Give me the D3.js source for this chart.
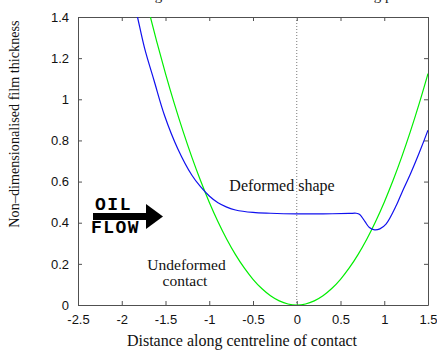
<!DOCTYPE html>
<html><head><meta charset="utf-8">
<script src="https://cdn.jsdelivr.net/npm/d3@7"></script>
<style>body{margin:0;background:#fff}svg{display:block}</style>
</head><body>
<script>
// ---- data ----
const xTicks = [-2.5, -2, -1.5, -1, -0.5, 0, 0.5, 1, 1.5];
const xTickLabels = ["-2.5", "-2", "-1.5", "-1", "-0.5", "0", "0.5", "1", "1.5"];
const yTicks = [0, 0.2, 0.4, 0.6, 0.8, 1, 1.2, 1.4];
const yTickLabels = ["0", "0.2", "0.4", "0.6", "0.8", "1", "1.2", "1.4"];

// Undeformed contact (green)
const undeformedX = [-1.8, -1.7, -1.6, -1.5, -1.4, -1.3, -1.2, -1.1, -1.0, -0.9, -0.8, -0.7, -0.6, -0.5, -0.4, -0.3, -0.2, -0.1, 0,
  0.1, 0.2, 0.3, 0.4, 0.5, 0.6, 0.7, 0.8, 0.9, 1.0, 1.1, 1.2, 1.3, 1.4, 1.5];
const undeformedH = [1.62, 1.445, 1.28, 1.125, 0.98, 0.845, 0.72, 0.605, 0.5, 0.405, 0.32, 0.245, 0.18, 0.125, 0.08, 0.045, 0.02, 0.005, 0,
  0.005, 0.02, 0.045, 0.08, 0.125, 0.18, 0.245, 0.32, 0.405, 0.5, 0.605, 0.72, 0.845, 0.98, 1.125];

// Deformed shape (blue)
const deformedX = [-1.9, -1.82, -1.74, -1.63, -1.51, -1.36, -1.2, -1.1, -1.0, -0.9, -0.8, -0.7, -0.5, -0.3, 0, 0.3, 0.6, 0.68, 0.72, 0.78, 0.83, 0.89, 0.95, 1.02, 1.14, 1.2, 1.3, 1.4, 1.5];
const deformedH = [1.55, 1.4, 1.25, 1.09, 0.92, 0.76, 0.632, 0.575, 0.53, 0.497, 0.476, 0.462, 0.45, 0.446, 0.443, 0.443, 0.445, 0.446, 0.44, 0.405, 0.377, 0.365, 0.37, 0.393, 0.486, 0.545, 0.638, 0.74, 0.85];

const title = "Film thickness along the centreline of a lubricated rolling point contact";
const xLabel = "Distance along centreline of contact";
const yLabel = "Non\u2013dimensionalised film thickness";

// ---- chart ----
const W = 437, H = 350;
const svg = d3.select("body").append("svg").attr("width", W).attr("height", H);
const x = d3.scaleLinear().domain([-2.5, 1.5]).range([78, 428]);
const y = d3.scaleLinear().domain([0, 1.4]).range([305, 17]);

const frameColor = "#505050";
const tickFont = "'Liberation Sans', Arial, sans-serif";
const serif = "'Liberation Serif', 'Times New Roman', serif";

// clip
svg.append("clipPath").attr("id", "clip").append("rect")
  .attr("x", x(-2.5)).attr("y", y(1.4)).attr("width", x(1.5) - x(-2.5)).attr("height", y(0) - y(1.4));

// title (cut off at top edge, as in the reference)
svg.append("text").attr("x", 250).attr("y", 0).attr("text-anchor", "middle")
  .attr("font-family", serif).attr("font-size", 15).attr("fill", "#222").text(title);

// zero dotted line
svg.append("line").attr("x1", x(0)).attr("x2", x(0)).attr("y1", y(1.4)).attr("y2", y(0))
  .attr("stroke", "#777").attr("stroke-width", 1).attr("stroke-dasharray", "1,2");

// axes
const tl = 4;
const axB = d3.axisBottom(x).tickValues(xTicks).tickFormat((d, i) => xTickLabels[i]).tickSizeInner(-tl).tickSizeOuter(0).tickPadding(10);
const axT = d3.axisTop(x).tickValues(xTicks).tickFormat("").tickSizeInner(-tl).tickSizeOuter(0);
const axL = d3.axisLeft(y).tickValues(yTicks).tickFormat((d, i) => yTickLabels[i]).tickSizeInner(-tl).tickSizeOuter(0).tickPadding(9);
const axR = d3.axisRight(y).tickValues(yTicks).tickFormat("").tickSizeInner(-tl).tickSizeOuter(0);

function style(g) {
  g.selectAll("path").attr("stroke", frameColor);
  g.selectAll("line").attr("stroke", frameColor);
  g.selectAll("text").attr("font-family", tickFont).attr("font-size", 13).attr("fill", "#111");
}
svg.append("g").attr("transform", `translate(0,${y(0)})`).call(axB).call(style);
svg.append("g").attr("transform", `translate(0,${y(1.4)})`).call(axT).call(style);
svg.append("g").attr("transform", `translate(${x(-2.5)},0)`).call(axL).call(style);
svg.append("g").attr("transform", `translate(${x(1.5)},0)`).call(axR).call(style);

// curves
const line = d3.line().x(d => x(d[0])).y(d => y(d[1])).curve(d3.curveCatmullRom.alpha(0.5));
const plot = svg.append("g").attr("clip-path", "url(#clip)");
plot.append("path").datum(undeformedX.map((v, i) => [v, undeformedH[i]]))
  .attr("d", line).attr("fill", "none").attr("stroke", "#00ee00").attr("stroke-width", 1.2);
plot.append("path").datum(deformedX.map((v, i) => [v, deformedH[i]]))
  .attr("d", line).attr("fill", "none").attr("stroke", "#1010ee").attr("stroke-width", 1.2);

// axis labels
svg.append("text").attr("x", 242).attr("y", 346).attr("text-anchor", "middle")
  .attr("font-family", serif).attr("font-size", 16).attr("fill", "#111").text(xLabel);
svg.append("text").attr("transform", "translate(19,124) rotate(-90)").attr("text-anchor", "middle")
  .attr("font-family", serif).attr("font-size", 14.2).attr("fill", "#111").text(yLabel);

// annotations
svg.append("text").attr("x", 282).attr("y", 191).attr("text-anchor", "middle")
  .attr("font-family", serif).attr("font-size", 16).attr("fill", "#111").text("Deformed shape");
const und = svg.append("text").attr("text-anchor", "middle")
  .attr("font-family", serif).attr("font-size", 15.5).attr("fill", "#111");
und.append("tspan").attr("x", 186.5).attr("y", 270).text("Undeformed");
und.append("tspan").attr("x", 185).attr("y", 286).text("contact");

// oil flow arrow
const mono = "'Liberation Mono', 'Courier New', monospace";
svg.append("text").attr("x", 113.5).attr("y", 210).attr("text-anchor", "middle")
  .attr("font-family", mono).attr("font-weight", "bold").attr("font-size", 18).attr("letter-spacing", 1.5)
  .attr("fill", "#000").text("OIL");
svg.append("text").attr("x", 115.5).attr("y", 233).attr("text-anchor", "middle")
  .attr("font-family", mono).attr("font-weight", "bold").attr("font-size", 18).attr("letter-spacing", 1.5)
  .attr("fill", "#000").text("FLOW");
svg.append("rect").attr("x", 93).attr("y", 213).attr("width", 56).attr("height", 7).attr("fill", "#000");
svg.append("path").attr("d", "M146,204 L163,216.5 L146,229 Z").attr("fill", "#000");
</script>
</body></html>
